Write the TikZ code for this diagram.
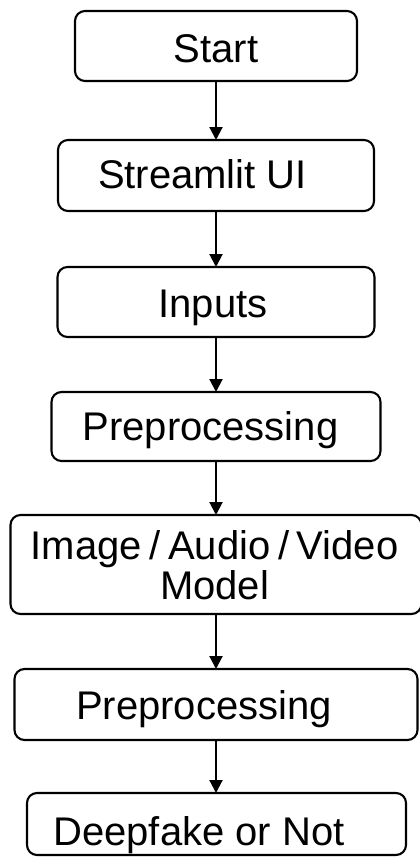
\documentclass[tikz,border=0pt]{standalone}
\usepackage{fontspec}
\setmainfont{Liberation Sans}
\usetikzlibrary{arrows.meta}
\begin{document}
\begin{tikzpicture}[x=1bp,y=-1bp,
  box/.style={draw=black, line width=2.1bp, rounded corners=10bp, inner sep=0pt, outer sep=0pt, fill=white},
  lbl/.style={anchor=base, inner sep=0pt, font=\fontsize{40bp}{40bp}\selectfont},
  arr/.style={draw=black, line width=2.1bp, -{Triangle[width=13bp,length=13bp]}}]
\useasboundingbox[fill=white] (0,0) rectangle (419,857);
% boxes
\node[box, minimum width=282bp, minimum height=70bp] (start) at (216,46) {};
\node[box, minimum width=316bp, minimum height=71bp] (ui) at (216,175.5) {};
\node[box, minimum width=317bp, minimum height=70bp] (inp) at (216,302) {};
\node[box, minimum width=329bp, minimum height=69bp] (pre1) at (216,426.5) {};
\node[box, minimum width=411bp, minimum height=99bp] (model) at (216,564.5) {};
\node[box, minimum width=403bp, minimum height=71bp] (pre2) at (216,704.5) {};
\node[box, minimum width=379bp, minimum height=62bp] (out) at (216.5,824) {};
% labels
\node[lbl] (tstart) at (216,62) {Start};
\node[lbl] (tui) at (202.5,188) {Streamlit UI};
\node[lbl] (tinp) at (213,317) {Inputs};
\node[lbl] (tpre1) at (210.5,440) {Preprocessing};
\node[lbl] (tmodel1) at (214.5,559) {Image\hspace{0.19em}/\hspace{0.19em}Audio\hspace{0.19em}/\hspace{0.19em}Video};
\node[lbl] (tmodel2) at (214.5,599) {Model};
\node[lbl] (tpre2) at (204,719) {Preprocessing};
\node[lbl] (tout) at (199,845) {Deepfake or Not};
% connectors
\draw[arr] (start.south) -- (start.south |- ui.north);
\draw[arr] (ui.south) -- (ui.south |- inp.north);
\draw[arr] (inp.south) -- (inp.south |- pre1.north);
\draw[arr] (pre1.south) -- (pre1.south |- model.north);
\draw[arr] (model.south) -- (model.south |- pre2.north);
\draw[arr] (pre2.south) -- (pre2.south |- out.north);
\end{tikzpicture}
\end{document}
